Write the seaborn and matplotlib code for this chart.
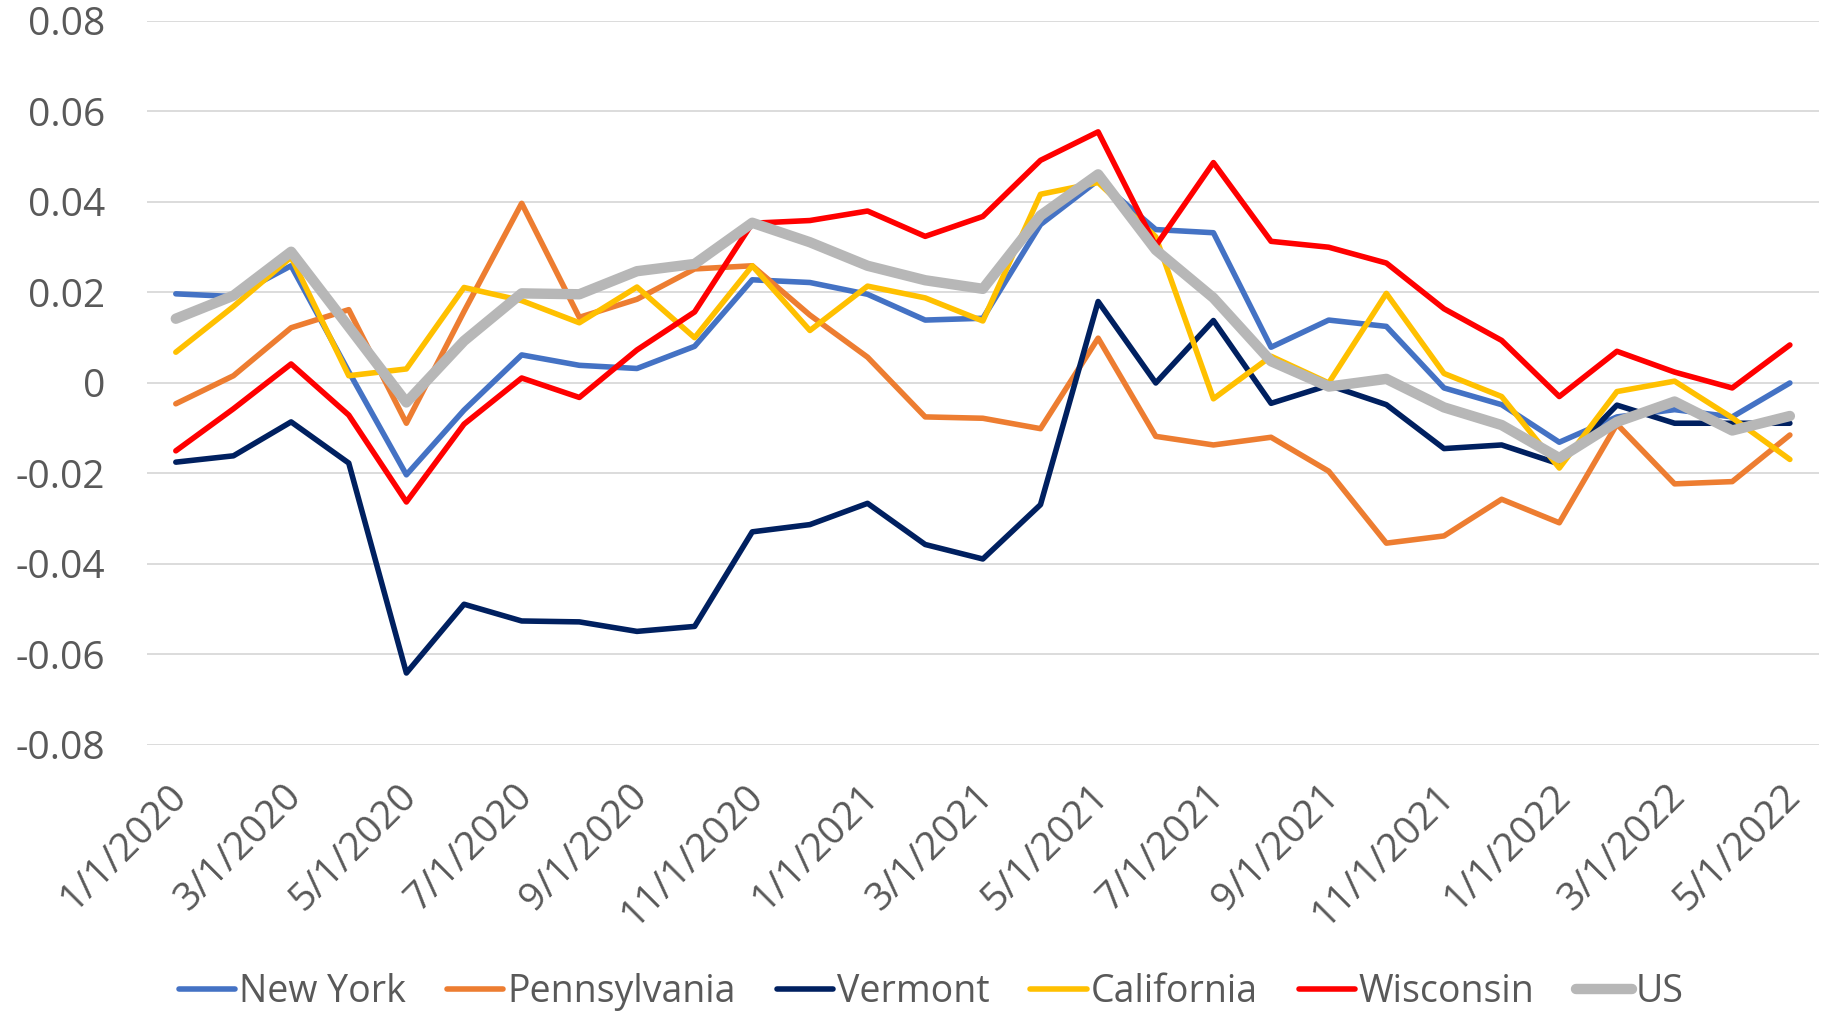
import numpy as np
import pandas as pd
import matplotlib
matplotlib.use("Agg")
import matplotlib.pyplot as plt
import matplotlib.transforms as mtransforms
import seaborn as sns

# ─── DATA ────────────────────────────────────────────────────────────────────
months = [f"{m}/1/{y}" for y, m in
          [(2020, m) for m in range(1, 13)] + [(2021, m) for m in range(1, 13)] + [(2022, m) for m in range(1, 6)]]

new_york = [0.0197, 0.0191, 0.0259, 0.0025, -0.0203, -0.0060, 0.0062, 0.0039, 0.0032, 0.0081,
            0.0228, 0.0222, 0.0196, 0.0139, 0.0143, 0.0350, 0.0448, 0.0339, 0.0332, 0.0079,
            0.0139, 0.0125, -0.0011, -0.0048, -0.0131, -0.0075, -0.0059, -0.0075, 0.0000]
pennsylvania = [-0.0046, 0.0016, 0.0122, 0.0162, -0.0089, 0.0158, 0.0397, 0.0145, 0.0185, 0.0252,
                0.0259, 0.0150, 0.0057, -0.0075, -0.0078, -0.0101, 0.0099, -0.0118, -0.0137, -0.0120,
                -0.0195, -0.0354, -0.0338, -0.0257, -0.0309, -0.0091, -0.0223, -0.0218, -0.0115]
vermont = [-0.0175, -0.0161, -0.0086, -0.0177, -0.0641, -0.0489, -0.0526, -0.0528, -0.0549, -0.0538,
           -0.0329, -0.0313, -0.0266, -0.0357, -0.0389, -0.0269, 0.0180, 0.0000, 0.0138, -0.0045,
           -0.0005, -0.0048, -0.0145, -0.0137, -0.0179, -0.0049, -0.0089, -0.0089, -0.0089]
california = [0.0068, 0.0169, 0.0278, 0.0016, 0.0031, 0.0211, 0.0182, 0.0133, 0.0212, 0.0100,
              0.0259, 0.0116, 0.0214, 0.0188, 0.0137, 0.0417, 0.0443, 0.0323, -0.0035, 0.0059,
              0.0000, 0.0198, 0.0021, -0.0030, -0.0188, -0.0019, 0.0004, -0.0077, -0.0169]
wisconsin = [-0.0150, -0.0057, 0.0042, -0.0071, -0.0263, -0.0091, 0.0011, -0.0032, 0.0073, 0.0157,
             0.0353, 0.0359, 0.0380, 0.0324, 0.0368, 0.0492, 0.0555, 0.0303, 0.0487, 0.0313,
             0.0300, 0.0265, 0.0164, 0.0094, -0.0030, 0.0070, 0.0024, -0.0011, 0.0084]
us = [0.0142, 0.0193, 0.0290, 0.0124, -0.0043, 0.0093, 0.0198, 0.0196, 0.0247, 0.0263,
      0.0354, 0.0311, 0.0259, 0.0227, 0.0208, 0.0370, 0.0461, 0.0294, 0.0188, 0.0048,
      -0.0008, 0.0009, -0.0054, -0.0093, -0.0166, -0.0086, -0.0041, -0.0105, -0.0073]

series_names = ["New York", "Pennsylvania", "Vermont", "California", "Wisconsin", "US"]
series_vals = [new_york, pennsylvania, vermont, california, wisconsin, us]
y_ticks = [-0.08, -0.06, -0.04, -0.02, 0, 0.02, 0.04, 0.06, 0.08]

# ─── STYLE ───────────────────────────────────────────────────────────────────
COLORS = {"New York": "#4472C4", "Pennsylvania": "#ED7D31", "Vermont": "#002060",
          "California": "#FFC000", "Wisconsin": "#FF0000", "US": "#B7B7B7"}
WIDTHS = {"New York": 4.0, "Pennsylvania": 4.0, "Vermont": 4.0,
          "California": 4.0, "Wisconsin": 4.0, "US": 7.5}
TXT = "#595959"

sns.set_style("white")
plt.rcParams["font.family"] = ["Open Sans", "DejaVu Sans"]

fig = plt.figure(figsize=(18.26, 10.13), dpi=100)
ax = fig.add_axes([0.0805, 0.2646, 0.9155, 0.7147])

pos = np.arange(len(months))
for name, vals in zip(series_names, series_vals):
    sns.lineplot(x=pos, y=vals, ax=ax, color=COLORS[name], lw=WIDTHS[name],
                 label=name, solid_capstyle="round", solid_joinstyle="round")

ax.set_xlim(-0.5, len(months) - 0.5)
ax.set_ylim(-0.08, 0.08)
ax.set_yticks(y_ticks)
ax.set_yticklabels(["0" if v == 0 else f"{v:.2f}" for v in y_ticks])
ax.yaxis.grid(True, color="#D9D9D9", lw=1.3)
ax.set_axisbelow(True)
sns.despine(ax=ax, left=True, bottom=True)
ax.tick_params(axis="y", length=0, pad=30, labelsize=28, labelcolor=TXT)
ax.tick_params(axis="x", length=0, pad=33, labelsize=28, labelcolor=TXT)

ax.set_xticks(pos[::2])
ax.set_xticklabels(months[::2], rotation=45, ha="right", va="center", rotation_mode="anchor")
shift = mtransforms.ScaledTranslation(0.05, 0, fig.dpi_scale_trans)
for lab in ax.get_xticklabels():
    lab.set_transform(lab.get_transform() + shift)
ax.set_xlabel("")
ax.set_ylabel("")

handles, labels = ax.get_legend_handles_labels()
ax.get_legend().remove()
leg = fig.legend(handles, labels, loc="center", bbox_to_anchor=(0.51, 0.021), ncol=6,
                 frameon=False, fontsize=27, handlelength=1.5, handletextpad=0.1,
                 columnspacing=1.1, labelcolor=TXT)

plt.savefig("out.png", dpi=100)
plt.close()
